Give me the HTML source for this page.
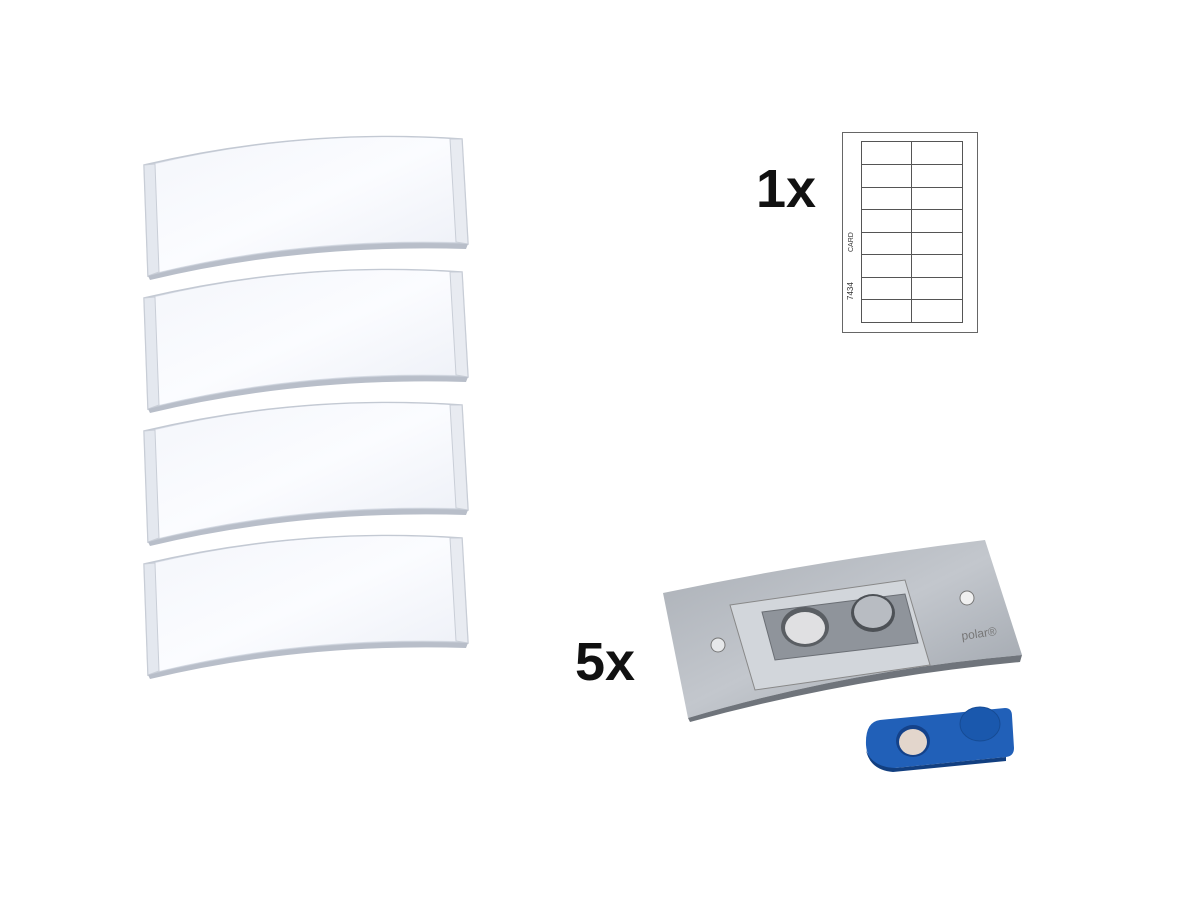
<!DOCTYPE html>
<html><head><style>
html,body{margin:0;padding:0;background:#fff;}
svg{display:block;}
text{font-family:"Liberation Sans",sans-serif;}
</style></head><body>
<svg width="1200" height="900" viewBox="0 0 1200 900" xmlns="http://www.w3.org/2000/svg">
<defs>
<linearGradient id="bd" x1="0" y1="0" x2="1" y2="1">
<stop offset="0" stop-color="#f4f6fb"/><stop offset="0.5" stop-color="#fbfcff"/><stop offset="1" stop-color="#eceff6"/>
</linearGradient>
<linearGradient id="mt" x1="0" y1="0" x2="1" y2="1">
<stop offset="0" stop-color="#a9aeb5"/><stop offset="0.5" stop-color="#c3c7cd"/><stop offset="1" stop-color="#9aa0a8"/>
</linearGradient>
<g id="badge">
<path d="M144,165 Q300,128 462,139 L468,244 Q300,238 148,276 Z" fill="#d8dde6" stroke="#c3c9d3" stroke-width="1.5"/>
<path d="M155,164 Q300,130 450,139 L456,242 Q300,238 159,272 Z" fill="url(#bd)"/>
<path d="M144,165 L155,164 L159,272 L148,276 Z" fill="#e4e8ef" stroke="#c9ced7" stroke-width="1"/>
<path d="M450,139 L462,139 L468,244 L456,242 Z" fill="#e8ebf1" stroke="#c9ced7" stroke-width="1"/>
<path d="M148,276 Q300,238 468,244 L466,249 Q300,244 150,280 Z" fill="#b8bec9"/>
</g>
</defs>
<use href="#badge"/>
<use href="#badge" y="133"/>
<use href="#badge" y="266"/>
<use href="#badge" y="399"/>

<text x="756" y="207" font-size="54" font-weight="bold" fill="#111">1x</text>
<text x="575" y="680" font-size="54" font-weight="bold" fill="#111">5x</text>

<!-- sheet -->
<rect x="842.5" y="132.5" width="135" height="200" fill="#fff" stroke="#666" stroke-width="1"/>
<rect x="861.5" y="141.5" width="101" height="181" fill="none" stroke="#555" stroke-width="1"/>
<line x1="911.5" y1="141.5" x2="911.5" y2="322.5" stroke="#555"/>
<g stroke="#555">
<line x1="861" y1="164.5" x2="962" y2="164.5"/><line x1="861" y1="187.5" x2="962" y2="187.5"/>
<line x1="861" y1="209.5" x2="962" y2="209.5"/><line x1="861" y1="232.5" x2="962" y2="232.5"/>
<line x1="861" y1="254.5" x2="962" y2="254.5"/><line x1="861" y1="277.5" x2="962" y2="277.5"/>
<line x1="861" y1="299.5" x2="962" y2="299.5"/>
</g>
<text x="0" y="0" font-size="8" fill="#333" transform="translate(853,300) rotate(-90)">7434</text>
<text x="0" y="0" font-size="7" fill="#333" transform="translate(853,252) rotate(-90)">CARD</text>

<!-- magnet plate -->
<path d="M663,593 Q820,560 985,540 L1022,655 Q850,670 688,718 Z" fill="url(#mt)"/>
<path d="M688,718 Q850,670 1022,655 L1020,662 Q850,678 690,722 Z" fill="#6f747b"/>
<path d="M730,605 L905,580 L930,665 L755,690 Z" fill="#d2d6db" stroke="#888" stroke-width="1"/>
<path d="M762,612 L905,594 L918,643 L775,660 Z" fill="#8f949b" stroke="#6a6e74"/>
<ellipse cx="805" cy="627" rx="24" ry="20" fill="#5a5e63"/>
<ellipse cx="805" cy="628" rx="20" ry="16" fill="#e0e0e2"/>
<ellipse cx="873" cy="613" rx="22" ry="19" fill="#4d5156"/>
<ellipse cx="873" cy="612" rx="19" ry="16" fill="#b8bcc2"/>
<circle cx="718" cy="645" r="7" fill="#e6e8ea" stroke="#777"/>
<circle cx="967" cy="598" r="7" fill="#f0f0f0" stroke="#777"/>
<text x="962" y="640" font-size="12" fill="#777" transform="rotate(-8 962 640)">polar®</text>
<!-- blue clip -->
<path d="M880,720 L1005,708 Q1012,708 1012,716 L1014,748 Q1014,756 1006,757 L895,768 Q868,770 866,745 Q865,722 880,720 Z" fill="#2160b8"/>
<path d="M895,768 L1006,757 L1006,761 L893,772 Q870,770 866,750 Q872,767 895,768Z" fill="#123f80"/>
<ellipse cx="913" cy="741" rx="17" ry="16" fill="#14428a"/>
<ellipse cx="913" cy="742" rx="14" ry="13" fill="#e3d6cc"/>
<ellipse cx="980" cy="724" rx="20" ry="17" fill="#1a58ad" stroke="#164b94"/>
</svg>
</body></html>
